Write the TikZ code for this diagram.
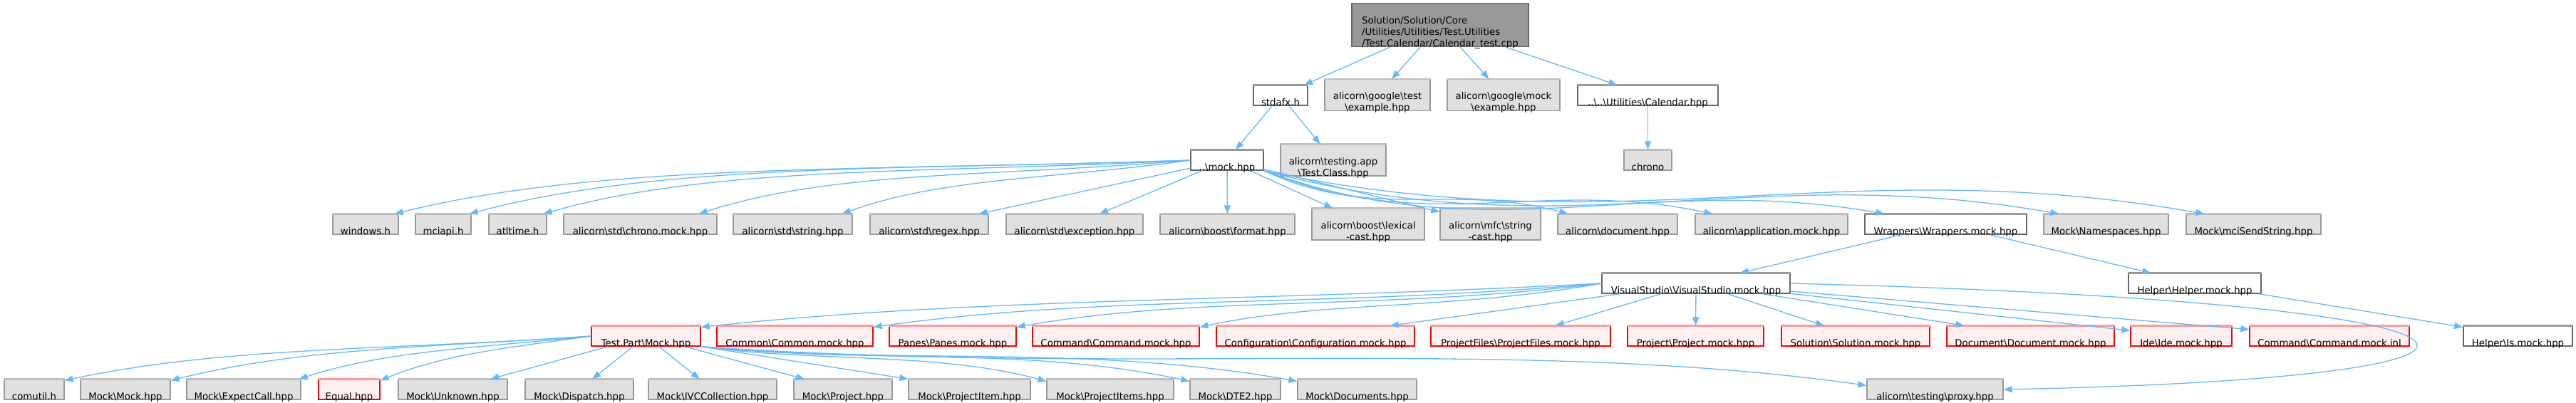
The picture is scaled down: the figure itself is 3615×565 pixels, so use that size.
\documentclass[tikz,border=0pt]{standalone}
\usepackage{fontspec}
\setmainfont{DejaVu Sans}
\usetikzlibrary{arrows.meta}
\definecolor{edgeblue}{HTML}{63B8FF}
\definecolor{boxgray}{HTML}{E0E0E0}
\definecolor{rootgray}{HTML}{999999}
\definecolor{linegray}{HTML}{666666}
\definecolor{topgray}{HTML}{BFBFBF}
\definecolor{missred}{HTML}{FFF0F0}
\definecolor{topred}{HTML}{FF9A9A}
\newcommand{\bsl}{\textbackslash}
\tikzset{
  base/.style={draw, line width=1.3pt, inner sep=0pt, minimum height=28pt,
    font=\fontsize{13.3}{16}\selectfont, text height=28pt, text depth=-2pt},
  topedge/.style={append after command={(\tikzlastnode.north west) edge[draw=#1, line width=2.6pt]
    (\tikzlastnode.north east)}},
  root/.style={base, fill=rootgray, draw=linegray, align=left},
  hdr/.style={base, fill=white, draw=linegray, topedge=rootgray},
  sys/.style={base, fill=boxgray, draw=rootgray, topedge=topgray},
  miss/.style={base, fill=missred, draw=red, topedge=topred},
  tall/.style={minimum height=44pt, align=center, text height=44pt, text depth=-2pt},
  inc/.style={draw=edgeblue, line width=1.3pt, -{Triangle[length=12pt,width=9pt]}},
}
\begin{document}
\begin{tikzpicture}[x=1pt, y=1pt]
    \useasboundingbox (0,0) rectangle (3615,-565);

    % 根文件
    \node[root, minimum width=248pt, minimum height=58pt, text height=61pt, text depth=-3pt] (root) at (2021,-35)
        {Solution/Solution/Core\\/Utilities/Utilities/Test.Utilities\\/Test.Calendar/Calendar\_test.cpp};

    % 第一层
    \node[hdr, minimum width=76pt] (stdafx) at (1797,-134) {stdafx.h};
    \node[sys, tall, minimum width=148pt] (gtest) at (1933,-133.5) {alicorn\bsl google\bsl test\\\bsl example.hpp};
    \node[sys, tall, minimum width=158pt] (gmock) at (2110,-133.5) {alicorn\bsl google\bsl mock\\\bsl example.hpp};
    \node[hdr, minimum width=197pt] (cal) at (2312.5,-134) {..\bsl ..\bsl Utilities\bsl Calendar.hpp};

    % 第二层
    \node[hdr, minimum width=102pt] (mock) at (1722,-225) {..\bsl mock.hpp};
    \node[sys, tall, minimum width=148pt] (tapp) at (1871,-225) {alicorn\bsl testing.app\\\bsl Test.Class.hpp};
    \node[sys, minimum width=67pt] (chrono) at (2312.5,-225) {chrono};

    % 第三层
    \node[sys, minimum width=92pt] (win) at (513,-315) {windows.h};
    \node[sys, minimum width=78pt] (mci) at (622,-315) {mciapi.h};
    \node[sys, minimum width=81pt] (atl) at (726.5,-315) {atltime.h};
    \node[sys, minimum width=215pt] (chmock) at (898.5,-315) {alicorn\bsl std\bsl chrono.mock.hpp};
    \node[sys, minimum width=167pt] (str) at (1112.5,-315) {alicorn\bsl std\bsl string.hpp};
    \node[sys, minimum width=166pt] (rgx) at (1304,-315) {alicorn\bsl std\bsl regex.hpp};
    \node[sys, minimum width=192pt] (exc) at (1508,-315) {alicorn\bsl std\bsl exception.hpp};
    \node[sys, minimum width=189pt] (fmt) at (1722.5,-315) {alicorn\bsl boost\bsl format.hpp};
    \node[sys, tall, minimum width=158pt] (lex) at (1920,-315) {alicorn\bsl boost\bsl lexical\\-cast.hpp};
    \node[sys, tall, minimum width=141pt] (mfc) at (2091.5,-315) {alicorn\bsl mfc\bsl string\\-cast.hpp};
    \node[sys, minimum width=168pt] (doc) at (2270,-315) {alicorn\bsl document.hpp};
    \node[sys, minimum width=214pt] (app) at (2486,-315) {alicorn\bsl application.mock.hpp};
    \node[hdr, minimum width=227pt] (wrap) at (2730.5,-315) {Wrappers\bsl Wrappers.mock.hpp};
    \node[sys, minimum width=175pt] (ns) at (2955.5,-315) {Mock\bsl Namespaces.hpp};
    \node[sys, minimum width=189pt] (mcis) at (3162.5,-315) {Mock\bsl mciSendString.hpp};

    % 第四层
    \node[hdr, minimum width=264pt] (vs) at (2380,-398) {VisualStudio\bsl VisualStudio.mock.hpp};
    \node[hdr, minimum width=186pt] (hlp) at (3080,-398) {Helper\bsl Helper.mock.hpp};

    % 第五层
    \node[miss, minimum width=153pt] (tpm) at (906.5,-472) {Test.Part\bsl Mock.hpp};
    \node[miss, minimum width=219pt] (common) at (1115.5,-472) {Common\bsl Common.mock.hpp};
    \node[miss, minimum width=178pt] (panes) at (1337,-472) {Panes\bsl Panes.mock.hpp};
    \node[miss, minimum width=234pt] (cmd) at (1566,-472) {Command\bsl Command.mock.hpp};
    \node[miss, minimum width=278pt] (cfg) at (1846,-472) {Configuration\bsl Configuration.mock.hpp};
    \node[miss, minimum width=252pt] (pf) at (2134,-472) {ProjectFiles\bsl ProjectFiles.mock.hpp};
    \node[miss, minimum width=191pt] (prj) at (2379.5,-472) {Project\bsl Project.mock.hpp};
    \node[miss, minimum width=208pt] (sol) at (2604,-472) {Solution\bsl Solution.mock.hpp};
    \node[miss, minimum width=235pt] (docm) at (2849.5,-472) {Document\bsl Document.mock.hpp};
    \node[miss, minimum width=142pt] (ide) at (3061,-472) {Ide\bsl Ide.mock.hpp};
    \node[miss, minimum width=224pt] (cinl) at (3269,-472) {Command\bsl Command.mock.inl};
    \node[hdr, minimum width=153pt] (is) at (3533.5,-472) {Helper\bsl Is.mock.hpp};

    % 第六层
    \node[sys, minimum width=84pt] (comutil) at (48,-547) {comutil.h};
    \node[sys, minimum width=126pt] (mmock) at (176,-547) {Mock\bsl Mock.hpp};
    \node[sys, minimum width=160pt] (expect) at (342,-547) {Mock\bsl ExpectCall.hpp};
    \node[miss, minimum width=86pt] (equal) at (490,-547) {Equal.hpp};
    \node[sys, minimum width=153pt] (unk) at (635.5,-547) {Mock\bsl Unknown.hpp};
    \node[sys, minimum width=152pt] (disp) at (813,-547) {Mock\bsl Dispatch.hpp};
    \node[sys, minimum width=180pt] (ivc) at (1000,-547) {Mock\bsl IVCCollection.hpp};
    \node[sys, minimum width=138pt] (mprj) at (1183,-547) {Mock\bsl Project.hpp};
    \node[sys, minimum width=171pt] (mitem) at (1360.5,-547) {Mock\bsl ProjectItem.hpp};
    \node[sys, minimum width=178pt] (mitems) at (1558,-547) {Mock\bsl ProjectItems.hpp};
    \node[sys, minimum width=127pt] (dte) at (1733.5,-547) {Mock\bsl DTE2.hpp};
    \node[sys, minimum width=167pt] (docs) at (1904.5,-547) {Mock\bsl Documents.hpp};
    \node[sys, minimum width=191pt] (proxy) at (2715.5,-547) {alicorn\bsl testing\bsl proxy.hpp};

    % 上面几层的连线
    \foreach \t in {stdafx,gtest,gmock,cal} \draw[inc] (root) -- (\t);
    \foreach \t in {mock,tapp} \draw[inc] (stdafx) -- (\t);
    \draw[inc] (cal) -- (chrono);

    % mock.hpp 的连线
    \draw[inc] (mock.west) .. controls +(182:450) and +(14:300) .. ([xshift=-6pt]win.north east);
    \draw[inc] (mock.west) .. controls +(182:400) and +(15:280) .. ([xshift=-3pt]mci.north east);
    \draw[inc] (mock.west) .. controls +(183:360) and +(16:250) .. ([xshift=-5pt]atl.north east);
    \draw[inc] (mock.west) .. controls +(185:270) and +(18:200) .. ([xshift=-26pt]chmock.north east);
    \draw[inc] (mock.west) .. controls +(188:190) and +(20:150) .. ([xshift=-15pt]str.north east);
    \draw[inc] (mock) -- ([xshift=-14pt]rgx.north east);
    \foreach \t in {exc,fmt,lex,mfc} \draw[inc] (mock) -- (\t);
    \draw[inc] (mock.south east) .. controls +(-25:170) and +(165:170) .. ([xshift=15pt]doc.north west);
    \draw[inc] (mock.south east) .. controls +(-22:250) and +(168:250) .. ([xshift=25pt]app.north west);
    \draw[inc] (mock.south east) .. controls +(-20:340) and +(170:340) .. ([xshift=28pt]wrap.north west);
    \draw[inc] (mock.south east) .. controls +(-15:440) and +(170:440) .. ([xshift=22pt]ns.north west);
    \draw[inc] (mock.south east) .. controls +(-12:520) and +(170:520) .. ([xshift=26pt]mcis.north west);

    % Wrappers 和 Helper
    \foreach \t in {vs,hlp} \draw[inc] (wrap) -- (\t);
    \draw[inc] (hlp) -- (is);

    % VisualStudio 的连线
    \draw[inc] (vs.west) .. controls +(183:500) and +(6:400) .. ([yshift=-2pt]tpm.north east);
    \draw[inc] (vs.west) .. controls +(185:400) and +(8:330) .. ([yshift=-2pt]common.north east);
    \draw[inc] (vs.west) .. controls +(187:320) and +(10:260) .. ([yshift=-2pt]panes.north east);
    \draw[inc] (vs.west) .. controls +(190:220) and +(12:180) .. ([yshift=-2pt]cmd.north east);
    \draw[inc] (vs) -- ([xshift=-35pt]cfg.north east);
    \foreach \t in {pf,prj,sol,docm,ide,cinl} \draw[inc] (vs) -- (\t);
    \draw[inc] (vs.east) .. controls (3600,-425) and (3650,-530) .. (proxy.east);

    % Test.Part 的连线
    \draw[inc] (tpm.west) .. controls +(184:290) and +(12:230) .. ([yshift=-2pt]comutil.north east);
    \draw[inc] (tpm.west) .. controls +(184:230) and +(14:190) .. ([yshift=-2pt]mmock.north east);
    \draw[inc] (tpm.west) .. controls +(186:160) and +(18:130) .. ([xshift=-3pt]expect.north east);
    \draw[inc] (tpm.west) .. controls +(188:120) and +(22:100) .. ([yshift=-2pt]equal.north east);
    \foreach \t in {unk,disp,ivc,mprj} \draw[inc] (tpm) -- (\t);
    \draw[inc] (tpm.south east) -- (mitem.north west);
    \draw[inc] (tpm.south east) .. controls +(-8:160) and +(165:160) .. ([yshift=-3pt]mitems.north west);
    \draw[inc] (tpm.south east) .. controls +(-6:240) and +(168:240) .. ([yshift=-3pt]dte.north west);
    \draw[inc] (tpm.south east) .. controls +(-5:300) and +(170:300) .. ([yshift=-3pt]docs.north west);
    \draw[inc] (tpm.south east) .. controls +(-4:600) and +(172:500) .. ([yshift=-9pt]proxy.north west);
\end{tikzpicture}
\end{document}
